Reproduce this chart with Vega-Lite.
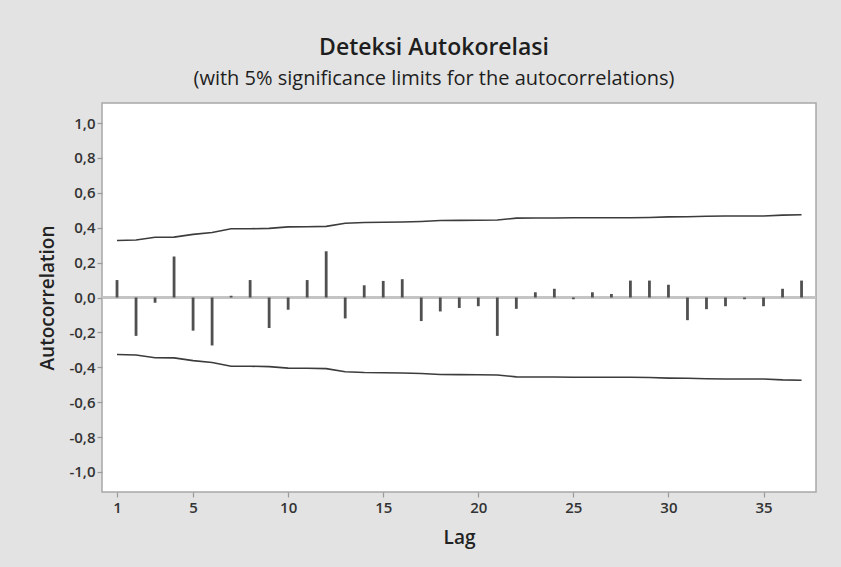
{
  "$schema": "https://vega.github.io/schema/vega-lite/v6.json",
  "autosize": {"type": "none"},
  "width": 714,
  "height": 389,
  "padding": {"left": 102, "top": 103, "right": 25, "bottom": 75},
  "background": "#e3e3e3",
  "config": {
    "font": "Open Sans",
    "view": {"stroke": "#a8a8a8", "strokeWidth": 1.5, "fill": "#ffffff"},
    "axis": {"labelOverlap": false, "grid": false, "domain": false}
  },
  "title": {
    "text": "Deteksi Autokorelasi",
    "subtitle": "(with 5% significance limits for the autocorrelations)",
    "anchor": "middle",
    "dx": -25,
    "offset": 14,
    "fontSize": 23,
    "fontWeight": 600,
    "color": "#1e1e1e",
    "subtitleFontSize": 20,
    "subtitleFontWeight": 500,
    "subtitleColor": "#1e1e1e",
    "subtitlePadding": 9
  },
  "data": {
    "values": [
      {"lag": 1, "acf": 0.10, "upper": 0.327, "lower": -0.327},
      {"lag": 2, "acf": -0.22, "upper": 0.330, "lower": -0.330},
      {"lag": 3, "acf": -0.03, "upper": 0.345, "lower": -0.345},
      {"lag": 4, "acf": 0.235, "upper": 0.346, "lower": -0.346},
      {"lag": 5, "acf": -0.19, "upper": 0.362, "lower": -0.362},
      {"lag": 6, "acf": -0.275, "upper": 0.373, "lower": -0.373},
      {"lag": 7, "acf": 0.01, "upper": 0.394, "lower": -0.394},
      {"lag": 8, "acf": 0.10, "upper": 0.394, "lower": -0.394},
      {"lag": 9, "acf": -0.175, "upper": 0.396, "lower": -0.396},
      {"lag": 10, "acf": -0.07, "upper": 0.405, "lower": -0.405},
      {"lag": 11, "acf": 0.10, "upper": 0.406, "lower": -0.406},
      {"lag": 12, "acf": 0.265, "upper": 0.408, "lower": -0.408},
      {"lag": 13, "acf": -0.12, "upper": 0.426, "lower": -0.426},
      {"lag": 14, "acf": 0.07, "upper": 0.430, "lower": -0.430},
      {"lag": 15, "acf": 0.095, "upper": 0.431, "lower": -0.431},
      {"lag": 16, "acf": 0.105, "upper": 0.433, "lower": -0.433},
      {"lag": 17, "acf": -0.135, "upper": 0.436, "lower": -0.436},
      {"lag": 18, "acf": -0.08, "upper": 0.441, "lower": -0.441},
      {"lag": 19, "acf": -0.06, "upper": 0.442, "lower": -0.442},
      {"lag": 20, "acf": -0.05, "upper": 0.443, "lower": -0.443},
      {"lag": 21, "acf": -0.22, "upper": 0.444, "lower": -0.444},
      {"lag": 22, "acf": -0.065, "upper": 0.455, "lower": -0.455},
      {"lag": 23, "acf": 0.03, "upper": 0.456, "lower": -0.456},
      {"lag": 24, "acf": 0.05, "upper": 0.456, "lower": -0.456},
      {"lag": 25, "acf": -0.01, "upper": 0.457, "lower": -0.457},
      {"lag": 26, "acf": 0.03, "upper": 0.457, "lower": -0.457},
      {"lag": 27, "acf": 0.02, "upper": 0.457, "lower": -0.457},
      {"lag": 28, "acf": 0.097, "upper": 0.457, "lower": -0.457},
      {"lag": 29, "acf": 0.097, "upper": 0.459, "lower": -0.459},
      {"lag": 30, "acf": 0.073, "upper": 0.462, "lower": -0.462},
      {"lag": 31, "acf": -0.13, "upper": 0.463, "lower": -0.463},
      {"lag": 32, "acf": -0.067, "upper": 0.466, "lower": -0.466},
      {"lag": 33, "acf": -0.05, "upper": 0.467, "lower": -0.467},
      {"lag": 34, "acf": -0.01, "upper": 0.467, "lower": -0.467},
      {"lag": 35, "acf": -0.05, "upper": 0.467, "lower": -0.467},
      {"lag": 36, "acf": 0.05, "upper": 0.472, "lower": -0.472},
      {"lag": 37, "acf": 0.097, "upper": 0.474, "lower": -0.474}
    ]
  },
  "layer": [
    {
      "mark": {"type": "rule", "color": "#c4c4c4", "strokeWidth": 1.6},
      "encoding": {
        "y": {
          "datum": 0,
          "type": "quantitative",
          "scale": {"domain": [-1.115, 1.115], "nice": false},
          "axis": {
            "title": "Autocorrelation",
            "values": [-1, -0.8, -0.6, -0.4, -0.2, 0, 0.2, 0.4, 0.6, 0.8, 1],
            "tickCount": 20,
            "labelExpr": "replace(replace(format(datum.value, '.1f'), '.', ','), '\u2212', '-')",
            "labelOverlap": false,
            "tickColor": "#9a9a9a",
            "tickSize": 5,
            "tickWidth": 1.2,
            "labelPadding": 2,
            "labelFontSize": 15,
            "labelFontWeight": 600,
            "labelColor": "#333333",
            "titleFontSize": 19,
            "titleFontWeight": 600,
            "titleColor": "#222222",
            "titlePadding": 11
          }
        }
      }
    },
    {
      "mark": {"type": "rule", "color": "#505050", "strokeWidth": 2.8},
      "encoding": {
        "x": {
          "field": "lag",
          "type": "quantitative",
          "scale": {"domain": [0.21, 37.76], "nice": false, "zero": false},
          "axis": {
            "title": "Lag",
            "values": [1, 5, 10, 15, 20, 25, 30, 35],
            "tickCount": 20,
            "tickColor": "#9a9a9a",
            "tickSize": 5,
            "tickWidth": 1.2,
            "labelPadding": 3,
            "labelFontSize": 15,
            "labelFontWeight": 600,
            "labelColor": "#333333",
            "titleFontSize": 19,
            "titleFontWeight": 600,
            "titleColor": "#222222",
            "titlePadding": 13
          }
        },
        "y": {"field": "acf", "type": "quantitative"},
        "y2": {"datum": 0}
      }
    },
    {
      "mark": {"type": "line", "color": "#3c3c3c", "strokeWidth": 1.6},
      "encoding": {
        "x": {"field": "lag", "type": "quantitative"},
        "y": {"field": "upper", "type": "quantitative"}
      }
    },
    {
      "mark": {"type": "line", "color": "#3c3c3c", "strokeWidth": 1.6},
      "encoding": {
        "x": {"field": "lag", "type": "quantitative"},
        "y": {"field": "lower", "type": "quantitative"}
      }
    }
  ]
}
